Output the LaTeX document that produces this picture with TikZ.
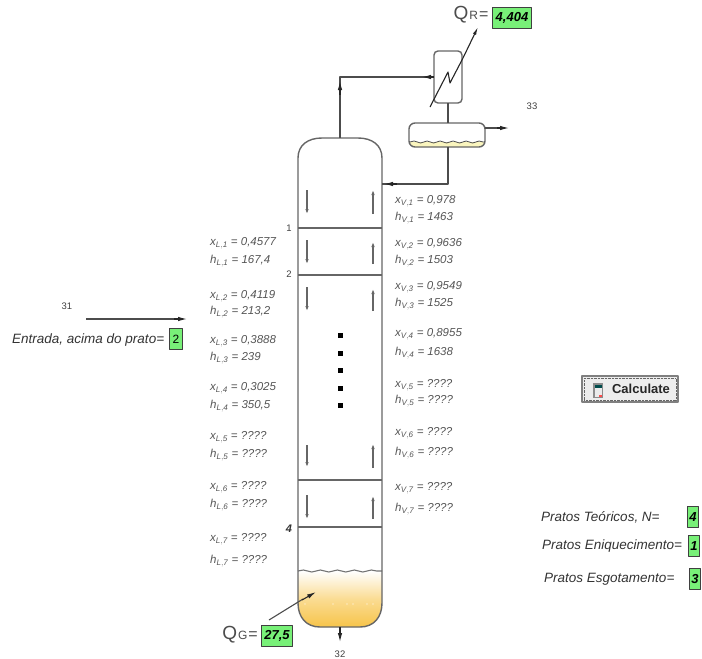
\documentclass[tikz,border=0pt]{standalone}
\usepackage{fontspec}
\setmainfont{Liberation Sans}
\usetikzlibrary{arrows.meta,decorations.pathmorphing,calc}
\definecolor{boxgreen}{RGB}{120,240,120}
\definecolor{oilcol}{RGB}{247,196,74}
\definecolor{palecol}{RGB}{250,245,190}
\definecolor{labgray}{RGB}{85,85,85}
\tikzset{
    valbox/.style={draw=black!75, line width=1pt, fill=boxgreen, inner sep=1pt, minimum height=21pt, font=\bfseries\itshape\fontsize{13}{13}\selectfont},
    proplabel/.style={anchor=west, inner sep=0pt, text=labgray, font=\itshape\fontsize{11.5}{11.5}\selectfont},
    darklabel/.style={inner sep=0pt, text=black!80, font=\itshape\fontsize{13.5}{13.5}\selectfont},
    numlabel/.style={inner sep=0pt, text=black!75, font=\fontsize{9.5}{9.5}\selectfont},
    pipe/.style={draw=black!70, line width=1.1pt},
    vessel/.style={draw=black!60, line width=1.4pt},
    flow/.style={-{Latex[length=9pt,width=4.5pt]}, line width=1.1pt, black!85},
    trayflow/.style={-{Latex[length=5pt,width=3.5pt]}, line width=1.1pt, black!60}
}
\newcommand{\propxy}[3]{$\mathit{#1}_{\mathit{#2}}$ = #3}
\begin{document}
\begin{tikzpicture}[x=1pt,y=-1pt, line join=round]
    \useasboundingbox (0,0) rectangle (702,659);

    % column
    \shade[top color=white, bottom color=oilcol, middle color=oilcol!60]
        (298,571) -- (298,603) .. controls (298,617) and (306,627) .. (320,627) -- (360,627)
        .. controls (374,627) and (382,617) .. (382,603) -- (382,571) -- cycle;
    \foreach \xpos in {305,333,347,353,367,373}{
        \fill[white] (\xpos,604) circle (0.7pt);
    }
    \draw[pipe, black!55, decorate, decoration={snake,amplitude=1pt,segment length=17pt}] (298,571) -- (382,571);

    \draw[vessel] (298,603) -- (298,158) .. controls (298,145) and (308,138) .. (322,138) -- (358,138)
        .. controls (372,138) and (382,145) .. (382,158) -- (382,603)
        .. controls (382,617) and (374,627) .. (360,627) -- (320,627)
        .. controls (306,627) and (298,617) .. (298,603) -- cycle;

    % trays
    \foreach \ypos in {228,275,480,527}{
        \draw[vessel] (298,\ypos) -- (382,\ypos);
    }
    \node[numlabel] (t1) at (289,228) {1};
    \node[numlabel] (t2) at (289,274) {2};
    \node[inner sep=0pt, font=\bfseries\itshape\fontsize{11}{11}\selectfont, text=black!80] (t4) at (289,529) {4};

    % flows inside
    \foreach \ya/\yb in {190/214,240/264,287/311,445/467,495/519}{
        \draw[trayflow] (307,\ya) -- (307,\yb);
    }
    \foreach \ya/\yb in {214/190,264/242,311/289,468/444,519/496}{
        \draw[trayflow] (373,\ya) -- (373,\yb);
    }

    % dots
    \foreach \ypos in {335,353,370,388,405}{
        \fill (338,\ypos-2.5) rectangle (343,\ypos+2.5);
    }

    % condenser
    \draw[vessel, rounded corners=4pt] (434,51) rectangle (462,103);
    \draw[pipe, black!85] (430,107) -- (448,72) -- (450,83) -- (463,58);
    \draw[flow, -{Latex[length=8pt,width=3.5pt]}] (463,58) -- (478,27);

    % drum
    \fill[palecol] (410,142) -- (484,142) -- (484,143) .. controls (482,147) .. (478,147) -- (416,147) .. controls (412,147) .. (410,143) -- cycle;
    \draw[vessel, rounded corners=6pt] (409,123) rectangle (485,147);
    \draw[pipe, line width=0.8pt, decorate, decoration={snake,amplitude=1pt,segment length=13pt}] (410,142) -- (484,142);

    % pipes
    \draw[pipe] (340,138) -- (340,77) -- (434,77);
    \draw[flow] (340,95) -- (340,81);
    \draw[flow] (434,77) -- (422,77);
    \draw[pipe] (448,103) -- (448,123);
    \draw[pipe] (448,147) -- (448,184) -- (382,184);
    \draw[flow] (397,184) -- (384,184);
    \draw[pipe] (485,128) -- (498,128);
    \draw[flow] (497,128) -- (509,128);

    % feed
    \draw[pipe] (86,319) -- (176,319);
    \draw[flow] (174,319) -- (187,319);
    \node[numlabel] (n31) at (67,306) {31};
    \node[numlabel] (n33) at (532,106) {33};
    \node[numlabel] (n32) at (340,654) {32};
    \draw[flow] (340,627) -- (340,642);
    \draw[pipe] (269,620) -- (303,599);
    \draw[flow] (302,600) -- (316,592);

    % duties
    \node[inner sep=0pt, text=black!70, font=\fontsize{19}{19}\selectfont] (qr) at (471,15) {Q\kern1pt{\fontsize{12}{12}\selectfont R}\kern1pt{\fontsize{16}{16}\selectfont =}};
    \node[valbox, anchor=west, minimum width=39pt] (qrval) at (492,18) {4,404};
    \node[inner sep=0pt, text=black!70, font=\fontsize{19}{19}\selectfont] (qg) at (240,635) {Q\kern1pt{\fontsize{12}{12}\selectfont G}\kern1pt{\fontsize{16}{16}\selectfont =}};
    \node[valbox, anchor=west, minimum width=31pt] (qgval) at (261,636) {27,5};

    % feed stage
    \node[darklabel, anchor=west] (feedlab) at (12,340) {Entrada, acima do prato=};
    \node[valbox, anchor=center, minimum width=13pt, font=\fontsize{12}{12}\selectfont] (feedval) at (176,339) {2};

    % liquid side
    \foreach \num/\ypos/\val in {1/243/0{,}4577,2/296/0{,}4119,3/341/0{,}3888,4/388/0{,}3025,5/437/????,6/487/????,7/539/????}{
        \node[proplabel] (xl\num) at (210,\ypos) {\propxy{x}{L,\num}{\val}};
    }
    \foreach \num/\ypos/\val in {1/261/167{,}4,2/312/213{,}2,3/358/239,4/406/350{,}5,5/455/????,6/505/????,7/561/????}{
        \node[proplabel] (hl\num) at (210,\ypos) {\propxy{h}{L,\num}{\val}};
    }

    % vapour side
    \foreach \num/\ypos/\val in {1/201/0{,}978,2/244/0{,}9636,3/287/0{,}9549,4/334/0{,}8955,5/385/????,6/433/????,7/488/????}{
        \node[proplabel] (xv\num) at (395,\ypos) {\propxy{x}{V,\num}{\val}};
    }
    \foreach \num/\ypos/\val in {1/218/1463,2/261/1503,3/304/1525,4/353/1638,5/401/????,6/453/????,7/509/????}{
        \node[proplabel] (hv\num) at (395,\ypos) {\propxy{h}{V,\num}{\val}};
    }

    % button
    \node[draw=black!50, line width=1.5pt, fill=black!7, minimum width=96pt, minimum height=26pt, inner sep=0pt] (calcbtn) at (630,389) {};
    \draw[densely dotted, black!60, line width=0.4pt] ($(calcbtn.south west)+(3,-3)$) rectangle ($(calcbtn.north east)+(-3,3)$);
    \fill[black!45] (593,383) rectangle (603,398);
    \fill[black!8] (594.5,388) rectangle (601.5,397);
    \fill[teal!60!black] (594.5,384.5) rectangle (601.5,387.5);
    \fill[red!70] (599,395) rectangle (601.5,397);
    \node[inner sep=0pt, font=\bfseries\fontsize{13}{13}\selectfont, text=black!85] (calclab) at (641,389) {Calculate};

    % results
    \node[darklabel, anchor=west] (nlab) at (541,517) {Pratos Teóricos, N=};
    \node[valbox, minimum width=11pt, inner sep=0pt] (nval) at (693,517) {4};
    \node[darklabel, anchor=west] (elab) at (542,546) {Pratos Eniquecimento=};
    \node[valbox, minimum width=11pt, inner sep=0pt] (eval) at (694,546) {1};
    \node[darklabel, anchor=west] (slab) at (544,579) {Pratos Esgotamento=};
    \node[valbox, minimum width=11pt, inner sep=0pt] (sval) at (695,579) {3};
\end{tikzpicture}
\end{document}
